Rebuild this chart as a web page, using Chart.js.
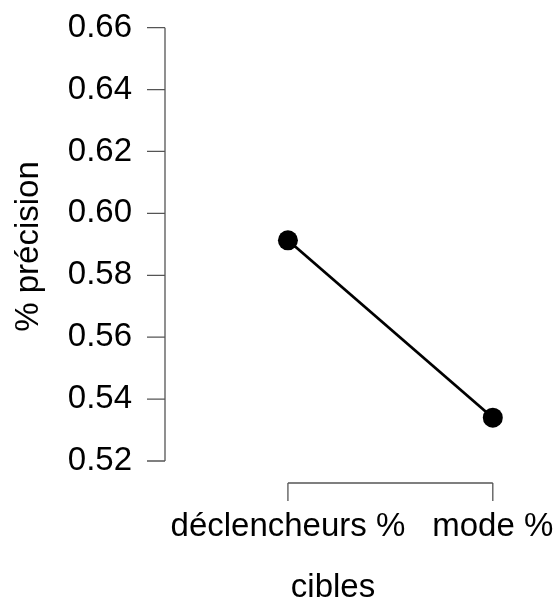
<!DOCTYPE html>
<html>
<head>
<meta charset="utf-8">
<script src="https://cdn.jsdelivr.net/npm/chart.js@4/dist/chart.umd.min.js"></script>
<style>
html,body{margin:0;padding:0;background:#fff;}
canvas{display:block;}
</style>
</head>
<body>
<canvas id="c" width="558" height="604"></canvas>
<script>
const categories = ["déclencheurs %", "mode %"];
const precision = [0.5913, 0.5340];
const yTicks = [0.52, 0.54, 0.56, 0.58, 0.60, 0.62, 0.64, 0.66];
const xTitle = "cibles";
const yTitle = "% précision";

const FONT = "'Liberation Sans', Arial, Helvetica, sans-serif";
const AXIS_COLOR = "#555555";

function noPad(s) {
  s.paddingLeft = 0; s.paddingRight = 0; s.paddingTop = 0; s.paddingBottom = 0;
}

const rAxes = {
  id: "rAxes",
  afterDraw(chart) {
    const ctx = chart.ctx;
    const xs = chart.scales.x, ys = chart.scales.y;
    const area = chart.chartArea;
    const tl = 18;
    ctx.save();
    ctx.strokeStyle = AXIS_COLOR;
    ctx.lineWidth = 1.3;
    const yTop = ys.getPixelForValue(yTicks[yTicks.length - 1]);
    const yBot = ys.getPixelForValue(yTicks[0]);
    const ax = area.left;
    ctx.beginPath();
    ctx.moveTo(ax, yTop); ctx.lineTo(ax, yBot);
    yTicks.forEach(v => {
      const p = ys.getPixelForValue(v);
      ctx.moveTo(ax - tl, p); ctx.lineTo(ax, p);
    });
    ctx.stroke();
    const ay = area.bottom;
    const x1 = xs.getPixelForValue(1), x2 = xs.getPixelForValue(categories.length);
    ctx.beginPath();
    ctx.moveTo(x1, ay); ctx.lineTo(x2, ay);
    categories.forEach((c, i) => {
      const p = xs.getPixelForValue(i + 1);
      ctx.moveTo(p, ay); ctx.lineTo(p, ay + tl);
    });
    ctx.stroke();
    ctx.restore();
  }
};

new Chart(document.getElementById("c"), {
  type: "line",
  data: {
    datasets: [{
      data: precision.map((v, i) => ({ x: i + 1, y: v })),
      borderColor: "#000",
      backgroundColor: "#000",
      borderWidth: 2.8,
      pointRadius: 10,
      pointBorderWidth: 0,
      pointBackgroundColor: "#000",
      tension: 0,
      fill: false,
      clip: false
    }]
  },
  options: {
    responsive: false,
    animation: false,
    events: [],
    layout: { padding: { left: 0, right: 57, top: 9, bottom: 0 } },
    plugins: { legend: { display: false }, tooltip: { enabled: false } },
    scales: {
      x: {
        type: "linear",
        min: 0.4,
        max: 2.04,
        afterFit(s) { s.height = 121; noPad(s); },
        afterBuildTicks(s) { s.ticks = categories.map((c, i) => ({ value: i + 1 })); },
        grid: { display: false, drawTicks: false },
        border: { display: false },
        ticks: {
          padding: 24,
          color: "#000",
          maxRotation: 0,
          autoSkip: false,
          font: { family: FONT, size: 33 },
          callback(v) { return categories[Math.round(v) - 1]; }
        },
        title: {
          display: true,
          text: xTitle,
          color: "#000",
          font: { family: FONT, size: 33, lineHeight: 1 },
          padding: { top: 0, bottom: 0 }
        }
      },
      y: {
        type: "linear",
        min: 0.5129,
        max: 0.6657,
        afterFit(s) { s.width = 165; noPad(s); },
        afterBuildTicks(s) { s.ticks = yTicks.map(v => ({ value: v })); },
        grid: { display: false, drawTicks: false },
        border: { display: false },
        ticks: {
          padding: 33,
          color: "#000",
          font: { family: FONT, size: 33 },
          callback(v) { return v.toFixed(2); }
        },
        title: {
          display: true,
          text: yTitle,
          color: "#000",
          font: { family: FONT, size: 33, lineHeight: 1.2 },
          padding: { top: 9, bottom: 0 }
        }
      }
    }
  },
  plugins: [rAxes]
});
</script>
</body>
</html>
